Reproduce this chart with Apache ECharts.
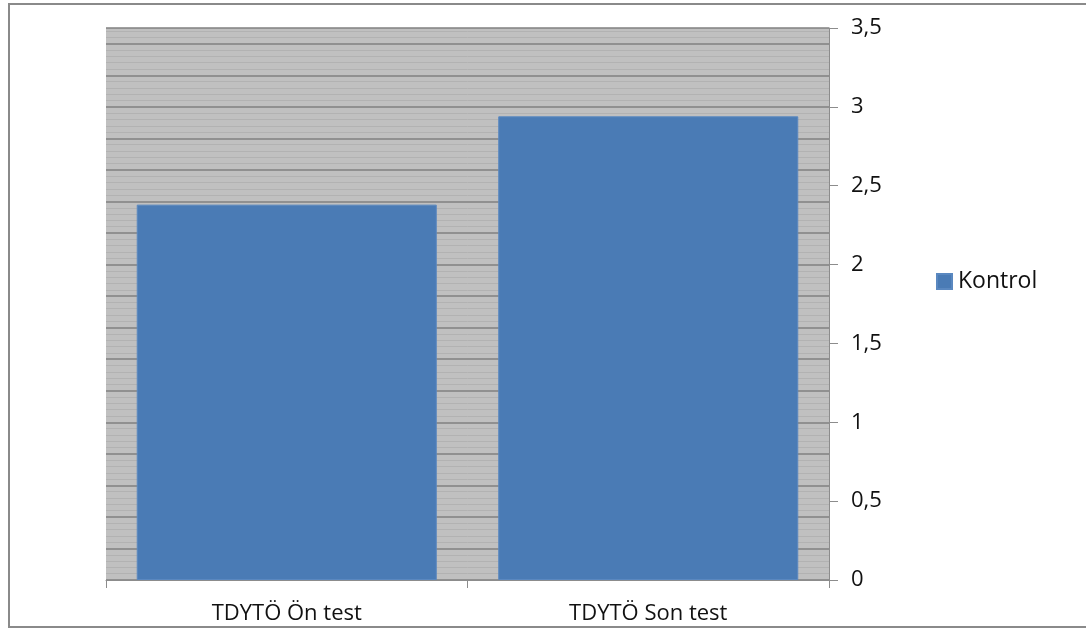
<!DOCTYPE html>
<html>
<head>
<meta charset="utf-8">
<script src="https://cdn.jsdelivr.net/npm/echarts@6/dist/echarts.min.js"></script>
<style>
html,body{margin:0;padding:0;background:#fff;}
#chart{width:1086px;height:630px;}
</style>
</head>
<body>
<div id="chart"></div>
<script>
// Mean scores, control group
const categories = ['TDYTÖ Ön test', 'TDYTÖ Son test'];
const seriesName = 'Kontrol';
const kontrolValues = [2.38, 2.94];

const chart = echarts.init(document.getElementById('chart'));
const font = 'Open Sans, Noto Sans, sans-serif';
const axisGray = '#8c8c8c';

chart.setOption({
  animation: false,
  backgroundColor: '#ffffff',
  grid: {
    left: 106, right: 257, top: 28, bottom: 50,
    show: true, backgroundColor: '#c0c0c0', borderWidth: 0
  },
  legend: {
    data: [seriesName],
    left: 936, top: 270, padding: 0,
    itemWidth: 15, itemHeight: 15, itemGap: 6,
    icon: 'rect',
    textStyle: { fontFamily: font, fontSize: 23, color: '#111', padding: [0, 0, 0, 1] }
  },
  xAxis: {
    type: 'category',
    data: categories,
    boundaryGap: true,
    axisLine: { lineStyle: { color: axisGray, width: 1 } },
    axisTick: { show: true, interval: 0, length: 8, lineStyle: { color: axisGray } },
    axisLabel: { fontFamily: font, fontSize: 22, color: '#111', margin: 23 }
  },
  yAxis: [
    {
      type: 'value', position: 'right', min: 0, max: 3.5, interval: 0.5,
      axisLine: { show: true, lineStyle: { color: axisGray } },
      axisTick: { show: true, length: 9, lineStyle: { color: axisGray } },
      axisLabel: {
        fontFamily: font, fontSize: 22, color: '#111', margin: 22,
        formatter: v => String(v).replace('.', ',')
      },
      splitLine: { show: false }
    },
    {
      // finer gridlines drawn behind the bars
      type: 'value', position: 'left', min: 0, max: 3.5, interval: 0.2,
      axisLine: { show: false }, axisTick: { show: false }, axisLabel: { show: false },
      splitLine: { show: true, lineStyle: { color: '#808080', width: 1.5 } },
      minorTick: { show: false, splitNumber: 5 },
      minorSplitLine: { show: true, lineStyle: { color: '#b2b2b2', width: 1 } }
    }
  ],
  series: [{
    name: seriesName,
    type: 'bar',
    yAxisIndex: 0,
    data: kontrolValues,
    barWidth: '83%',
    itemStyle: { color: '#4a7bb5', borderColor: '#5a88c0', borderWidth: 1 }
  }],
  graphic: [{
    type: 'polyline',
    shape: { points: [[1090, 4], [9, 4], [9, 627], [1090, 627]] },
    style: { stroke: '#8a8a8a', lineWidth: 2, fill: null }
  }]
});
</script>
</body>
</html>
